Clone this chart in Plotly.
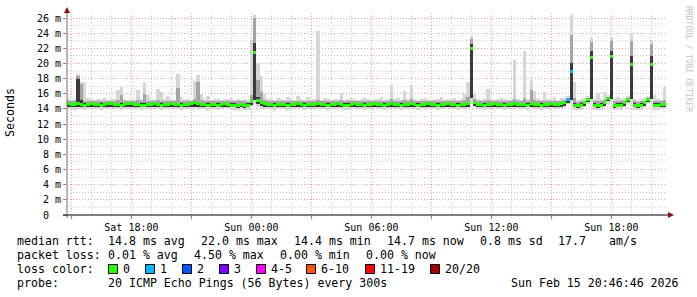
import plotly.graph_objects as go
import pandas as pd

# ---------------- data (ms, 10-minute bins) ----------------
bin_start = "2026-02-14 14:50"
bin_minutes = 10

ping_min = [
    14.0, 14.0, 13.9, 14.0, 14.0, 13.9, 14.0, 14.1, 14.0, 14.0,
    13.9, 14.0, 14.0, 14.1, 14.0, 14.0, 13.9, 14.0, 14.0, 14.1,
    14.0, 14.0, 13.9, 14.0, 14.0, 14.0, 14.1, 14.0, 13.9, 14.0,
    14.0, 14.1, 14.0, 14.0, 13.9, 14.0, 14.0, 14.1, 14.1, 14.0,
    14.0, 14.0, 13.9, 14.0, 14.0, 13.9, 14.0, 14.1, 14.0, 13.9,
    13.9, 13.8, 14.0, 13.8, 13.9, 14.2, 14.6, 14.3, 14.1, 14.0,
    14.0, 14.0, 13.9, 14.0, 14.0, 14.0, 13.9, 14.0, 14.0, 14.1,
    14.0, 13.9, 14.0, 14.0, 14.0, 14.1, 14.0, 14.0, 13.9, 14.0,
    14.0, 14.1, 14.0, 13.9, 13.9, 14.0, 14.1, 14.0, 14.0, 13.9,
    14.0, 14.0, 14.1, 14.0, 14.0, 13.9, 14.0, 14.1, 14.0, 14.0,
    13.9, 14.0, 14.0, 14.1, 14.0, 13.9, 14.0, 14.0, 14.1, 14.0,
    14.0, 13.9, 14.0, 14.0, 14.1, 14.0, 14.0, 13.9, 14.0, 14.0,
    14.1, 14.8, 14.2, 14.0, 14.0, 13.9, 14.0, 14.0, 14.1, 14.0,
    14.0, 13.9, 14.0, 14.0, 14.1, 14.0, 14.0, 14.0, 13.9, 14.1,
    14.0, 14.0, 13.9, 14.0, 14.0, 14.1, 14.0, 14.0, 14.1, 14.2,
    14.6, 14.8, 13.9, 13.8, 13.9, 14.2, 14.6, 14.9, 13.9, 13.8,
    13.9, 14.2, 14.7, 14.9, 13.8, 13.9, 13.9, 14.2, 14.6, 14.8,
    13.9, 13.8, 13.9, 14.2, 14.6, 14.8, 13.9, 13.9, 14.0, 14.0,
]

ping_p25 = [
    14.3, 14.2, 14.2, 14.3, 14.2, 14.2, 14.2, 14.3, 14.2, 14.2,
    14.2, 14.2, 14.3, 14.3, 14.2, 14.2, 14.2, 14.2, 14.3, 14.3,
    14.2, 14.2, 14.2, 14.2, 14.2, 14.2, 14.3, 14.2, 14.2, 14.2,
    14.2, 14.3, 14.2, 14.2, 14.2, 14.2, 14.2, 14.3, 14.3, 14.3,
    14.2, 14.2, 14.2, 14.2, 14.2, 14.2, 14.2, 14.3, 14.2, 14.2,
    14.2, 14.1, 14.2, 14.1, 14.2, 14.5, 15.2, 14.6, 14.4, 14.3,
    14.2, 14.2, 14.2, 14.2, 14.2, 14.2, 14.2, 14.2, 14.2, 14.3,
    14.2, 14.2, 14.2, 14.2, 14.2, 14.3, 14.2, 14.2, 14.2, 14.2,
    14.2, 14.3, 14.2, 14.2, 14.2, 14.2, 14.3, 14.2, 14.2, 14.2,
    14.2, 14.2, 14.3, 14.2, 14.2, 14.2, 14.2, 14.3, 14.2, 14.2,
    14.2, 14.2, 14.2, 14.3, 14.2, 14.2, 14.2, 14.2, 14.3, 14.2,
    14.2, 14.2, 14.2, 14.2, 14.3, 14.2, 14.2, 14.2, 14.2, 14.2,
    14.3, 15.4, 14.4, 14.2, 14.2, 14.2, 14.2, 14.2, 14.3, 14.2,
    14.2, 14.2, 14.2, 14.2, 14.3, 14.2, 14.2, 14.2, 14.2, 14.3,
    14.2, 14.2, 14.2, 14.2, 14.2, 14.3, 14.2, 14.2, 14.3, 14.4,
    14.8, 15.2, 14.2, 14.1, 14.2, 14.4, 14.9, 15.3, 14.2, 14.1,
    14.2, 14.4, 15.0, 15.3, 14.1, 14.2, 14.2, 14.4, 14.9, 15.3,
    14.2, 14.1, 14.2, 14.4, 14.9, 15.3, 14.2, 14.2, 14.2, 14.2,
]

median_rtt = [
    14.7, 14.6, 14.6, 14.7, 14.6, 14.5, 14.6, 14.7, 14.6, 14.6,
    14.5, 14.6, 14.7, 14.7, 14.6, 14.6, 14.5, 14.6, 14.7, 14.7,
    14.6, 14.6, 14.5, 14.5, 14.6, 14.6, 14.7, 14.6, 14.5, 14.6,
    14.6, 14.7, 14.6, 14.6, 14.5, 14.6, 14.6, 14.7, 14.8, 14.7,
    14.6, 14.6, 14.5, 14.6, 14.6, 14.5, 14.6, 14.7, 14.6, 14.5,
    14.5, 14.4, 14.6, 14.4, 14.5, 15.0, 21.4, 15.1, 14.8, 14.7,
    14.6, 14.6, 14.5, 14.6, 14.6, 14.6, 14.5, 14.6, 14.6, 14.7,
    14.6, 14.5, 14.6, 14.6, 14.6, 14.7, 14.6, 14.6, 14.5, 14.6,
    14.6, 14.7, 14.6, 14.5, 14.5, 14.6, 14.7, 14.6, 14.6, 14.5,
    14.6, 14.6, 14.7, 14.6, 14.6, 14.5, 14.6, 14.7, 14.6, 14.6,
    14.5, 14.6, 14.6, 14.7, 14.6, 14.5, 14.6, 14.6, 14.7, 14.6,
    14.6, 14.5, 14.6, 14.6, 14.7, 14.6, 14.6, 14.5, 14.6, 14.6,
    14.7, 22.0, 14.8, 14.6, 14.6, 14.5, 14.6, 14.6, 14.7, 14.6,
    14.6, 14.5, 14.6, 14.6, 14.7, 14.6, 14.6, 14.6, 14.5, 14.7,
    14.6, 14.6, 14.5, 14.6, 14.6, 14.7, 14.6, 14.6, 14.7, 14.8,
    15.2, 19.0, 14.5, 14.4, 14.5, 14.8, 15.3, 20.8, 14.5, 14.4,
    14.5, 14.8, 15.4, 20.9, 14.4, 14.5, 14.5, 14.8, 15.3, 19.8,
    14.5, 14.4, 14.5, 14.8, 15.3, 19.9, 14.5, 14.5, 14.6, 14.6,
]

ping_p75 = [
    14.9, 14.8, 14.8, 17.9, 15.2, 14.8, 14.8, 14.9, 14.8, 14.8,
    14.8, 14.8, 14.9, 14.9, 14.8, 14.8, 14.8, 14.8, 14.9, 14.9,
    14.8, 14.8, 14.8, 14.8, 14.8, 14.8, 14.9, 14.8, 14.8, 14.8,
    14.8, 14.9, 14.8, 14.8, 14.8, 14.8, 14.8, 14.9, 15.0, 14.9,
    14.8, 14.8, 14.8, 14.8, 14.8, 14.8, 14.8, 14.9, 14.8, 14.8,
    14.8, 14.7, 14.8, 14.7, 14.8, 15.2, 22.7, 15.6, 15.0, 14.9,
    14.8, 14.8, 14.8, 14.8, 14.8, 14.8, 14.8, 14.8, 14.8, 14.9,
    14.8, 14.8, 14.8, 14.8, 14.8, 14.9, 14.8, 14.8, 14.8, 14.8,
    14.8, 14.9, 14.8, 14.8, 14.8, 14.8, 14.9, 14.8, 14.8, 14.8,
    14.8, 14.8, 14.9, 14.8, 14.8, 14.8, 14.8, 14.9, 14.8, 14.8,
    14.8, 14.8, 14.8, 14.9, 14.8, 14.8, 14.8, 14.8, 14.9, 14.8,
    14.8, 14.8, 14.8, 14.8, 14.9, 14.8, 14.8, 14.8, 14.8, 14.8,
    14.9, 22.6, 15.0, 14.8, 14.8, 14.8, 14.8, 14.8, 14.9, 14.8,
    14.8, 14.8, 14.8, 14.8, 14.9, 14.8, 14.8, 14.8, 14.8, 14.9,
    14.8, 14.8, 14.8, 14.8, 14.8, 14.9, 14.8, 14.8, 14.9, 15.0,
    15.4, 20.0, 14.8, 14.7, 14.8, 15.0, 15.5, 21.6, 14.8, 14.7,
    14.8, 15.0, 15.6, 21.7, 14.7, 14.8, 14.8, 15.0, 15.5, 21.0,
    14.8, 14.7, 14.8, 15.0, 15.5, 21.0, 14.8, 14.8, 14.8, 14.8,
]

ping_p90 = [
    15.0, 15.0, 15.1, 18.4, 17.3, 15.1, 15.0, 15.0, 15.0, 15.1,
    15.0, 15.1, 15.0, 15.0, 15.1, 15.2, 15.8, 15.0, 15.0, 15.1,
    15.0, 15.2, 15.0, 16.0, 15.1, 15.0, 15.0, 15.2, 15.1, 15.0,
    15.1, 15.0, 15.0, 16.8, 15.1, 15.0, 15.1, 15.0, 15.3, 17.5,
    15.2, 15.0, 15.1, 15.0, 15.0, 15.1, 15.0, 15.0, 15.1, 15.0,
    15.0, 15.0, 15.0, 15.0, 14.9, 15.8, 26.0, 17.8, 16.2, 15.2,
    15.0, 15.1, 15.0, 15.1, 15.0, 15.0, 15.1, 15.0, 15.0, 15.1,
    15.0, 15.0, 15.1, 15.0, 15.0, 15.2, 15.0, 15.1, 15.0, 15.0,
    15.0, 15.1, 15.2, 15.0, 15.0, 15.1, 15.0, 15.0, 15.1, 15.0,
    15.0, 15.0, 15.1, 15.0, 15.1, 15.0, 15.0, 15.3, 15.0, 15.1,
    15.0, 15.2, 15.0, 15.3, 15.0, 15.0, 15.1, 15.0, 15.0, 15.0,
    15.1, 15.0, 15.1, 15.0, 15.0, 15.1, 15.0, 15.0, 15.0, 15.2,
    15.6, 23.2, 15.3, 15.0, 15.0, 15.0, 15.2, 15.0, 15.0, 15.1,
    15.1, 15.0, 15.0, 15.0, 15.3, 15.0, 15.0, 15.4, 15.0, 16.5,
    15.2, 15.0, 15.0, 15.1, 15.0, 15.1, 15.1, 15.0, 15.1, 15.2,
    15.5, 23.8, 15.4, 14.9, 15.0, 15.1, 15.5, 22.8, 15.0, 15.0,
    15.0, 15.2, 15.6, 22.9, 15.0, 15.1, 15.0, 15.1, 15.5, 23.0,
    15.0, 14.9, 15.0, 15.1, 15.5, 22.6, 15.1, 15.0, 15.0, 15.2,
]

ping_max = [
    15.3, 15.2, 15.3, 18.6, 17.6, 17.5, 15.4, 15.3, 15.2, 15.3,
    15.3, 15.5, 15.2, 15.3, 15.3, 16.5, 16.9, 15.3, 15.2, 15.3,
    15.2, 16.5, 15.3, 17.5, 15.8, 15.3, 15.2, 16.6, 16.3, 15.3,
    15.7, 15.3, 15.2, 18.6, 15.6, 15.3, 15.3, 15.2, 17.7, 18.5,
    16.0, 15.3, 15.7, 15.2, 15.3, 15.3, 15.2, 15.3, 15.3, 15.5,
    15.2, 15.3, 15.2, 15.3, 15.2, 23.1, 26.4, 20.0, 18.3, 16.0,
    15.3, 15.3, 15.2, 15.5, 15.3, 15.2, 15.6, 15.3, 15.2, 15.7,
    15.3, 15.2, 15.6, 15.3, 15.3, 24.3, 15.2, 15.5, 15.3, 15.2,
    15.3, 15.3, 16.1, 15.2, 15.3, 15.5, 15.3, 15.2, 15.3, 15.4,
    15.3, 15.2, 15.3, 15.3, 15.6, 15.2, 15.3, 17.1, 15.3, 15.4,
    15.2, 16.4, 15.3, 17.1, 15.3, 15.2, 15.3, 15.5, 15.3, 15.2,
    15.3, 15.3, 15.6, 15.2, 15.3, 15.3, 15.5, 15.2, 15.3, 16.0,
    17.5, 23.6, 16.0, 15.3, 15.2, 15.3, 16.6, 15.3, 15.2, 15.3,
    15.5, 15.3, 15.2, 15.3, 20.5, 15.3, 15.2, 21.6, 15.3, 17.8,
    16.4, 15.3, 15.2, 16.2, 15.3, 15.3, 15.6, 15.2, 15.5, 15.4,
    15.7, 26.4, 17.6, 15.2, 15.3, 15.4, 15.7, 23.3, 15.3, 16.1,
    15.3, 16.2, 15.8, 23.3, 15.3, 15.6, 15.3, 15.4, 15.7, 24.0,
    15.3, 15.2, 15.3, 15.4, 15.7, 23.1, 15.8, 15.3, 15.2, 16.9,
]

lost_pings = [
    0, 0, 0, 0, 0, 0, 0, 0, 0, 0,
    0, 0, 0, 0, 0, 0, 0, 0, 0, 0,
    0, 0, 0, 0, 0, 0, 0, 0, 0, 0,
    0, 0, 0, 0, 0, 0, 0, 0, 0, 0,
    0, 0, 0, 0, 0, 0, 0, 0, 0, 0,
    0, 0, 0, 0, 0, 0, 0, 0, 0, 0,
    0, 0, 0, 0, 0, 0, 0, 0, 0, 0,
    0, 0, 0, 0, 0, 0, 0, 0, 0, 0,
    0, 0, 0, 0, 0, 0, 0, 0, 0, 0,
    0, 0, 0, 0, 0, 0, 0, 0, 0, 0,
    0, 0, 0, 0, 0, 0, 0, 0, 0, 0,
    0, 0, 0, 0, 0, 0, 0, 0, 0, 0,
    0, 0, 0, 0, 0, 0, 0, 0, 0, 0,
    0, 0, 0, 0, 0, 0, 0, 0, 0, 0,
    0, 0, 0, 0, 0, 0, 0, 0, 0, 0,
    1, 1, 0, 0, 0, 0, 0, 0, 0, 0,
    0, 0, 0, 0, 0, 0, 0, 0, 0, 0,
    0, 0, 0, 0, 0, 0, 0, 0, 0, 0,
]

x_range = ["2026-02-14 14:46:46", "2026-02-15 20:46:46"]
x_tick_times = ["2026-02-14 15:00", "2026-02-14 18:00", "2026-02-14 21:00",
                "2026-02-15 00:00", "2026-02-15 03:00", "2026-02-15 06:00",
                "2026-02-15 09:00", "2026-02-15 12:00", "2026-02-15 15:00",
                "2026-02-15 18:00"]
x_tick_labels = ["", "Sat 18:00", "", "Sun 00:00", "", "Sun 06:00", "",
                 "Sun 12:00", "", "Sun 18:00"]
y_tick_vals = [0, 2, 4, 6, 8, 10, 12, 14, 16, 18, 20, 22, 24, 26]
y_tick_labels = ["0  ", "2 m", "4 m", "6 m", "8 m", "10 m", "12 m", "14 m",
                 "16 m", "18 m", "20 m", "22 m", "24 m", "26 m"]

loss_legend = ["0", "1", "2", "3", "4-5", "6-10", "11-19", "20/20"]
loss_colors = ["#26ff00", "#00b8ff", "#0059ff", "#7e00ff", "#ff00ff",
               "#ff5500", "#ff0000", "#a10000"]
loss_upper = [0, 1, 2, 3, 5, 10, 19, 20]

rtt_line = ["median rtt:", "14.8 ms avg", "22.0 ms max", "14.4 ms min",
            "14.7 ms now", "0.8 ms sd", "17.7", "am/s"]
loss_line = ["packet loss:", "0.01 % avg", "4.50 % max", "0.00 % min", "0.00 % now"]
color_line = ["loss color:"]
probe_line = ["probe:", "20 ICMP Echo Pings (56 Bytes) every 300s"]
timestamp = "Sun Feb 15 20:46:46 2026"

# ---------------- layout geometry ----------------
W, H = 697, 297
ML, MR, MT, MB = 67, 30, 13, 82
PW, PH = W - ML - MR, H - MT - MB
MONO = "DejaVu Sans Mono"


def px(x):
    return (x - ML) / PW


def py(y):
    return (H - MB - y) / PH


def nb(s):
    return s.replace(" ", "\u00a0")


def loss_color(n):
    for up, c in zip(loss_upper, loss_colors):
        if n <= up:
            return c
    return loss_colors[-1]


times = pd.date_range(bin_start, periods=len(median_rtt), freq=f"{bin_minutes}min")
BIN_MS = bin_minutes * 60 * 1000 * 1.02

fig = go.Figure()


def band(lo, hi, color):
    fig.add_trace(go.Bar(
        x=times, base=lo, y=[h - l for l, h in zip(lo, hi)], width=BIN_MS,
        marker=dict(color=color, line=dict(width=0)), hoverinfo="skip"))


band(ping_min, ping_max, "#d6d6d6")
band(ping_p25, ping_p90, "#a4a4a4")
band(ping_p25, ping_p75, "#3a3a3a")

MED_HALF = 0.2
fig.add_trace(go.Bar(
    x=times, base=[m - MED_HALF for m in median_rtt],
    y=[2 * MED_HALF] * len(median_rtt), width=BIN_MS,
    marker=dict(color=[loss_color(n) for n in lost_pings], line=dict(width=0)),
    hoverinfo="skip"))

major_grid = "#eaa0a0"
minor_grid = "#cdcdcd"
dash = "1px,2px"

fig.update_layout(
    width=W, height=H, margin=dict(l=ML, r=MR, t=MT, b=MB, pad=0),
    paper_bgcolor="white", plot_bgcolor="white", showlegend=False,
    barmode="overlay", bargap=0,
    font=dict(family=MONO, size=10, color="#000000"),
    xaxis=dict(
        type="date", range=x_range, tickmode="array",
        tickvals=x_tick_times, ticktext=x_tick_labels,
        showgrid=True, gridcolor=major_grid, griddash=dash, gridwidth=1,
        ticks="outside", ticklen=3, tickcolor="#e06060", tickwidth=1,
        tickfont=dict(family=MONO, size=10, color="#000000"),
        showline=False, zeroline=False,
        minor=dict(dtick=3600000, tick0="2026-02-14 00:00", showgrid=True,
                   gridcolor=minor_grid, griddash=dash, gridwidth=1),
    ),
    yaxis=dict(
        range=[0, 26.66], tickmode="array", tickvals=y_tick_vals,
        ticktext=[nb(t) for t in y_tick_labels],
        showgrid=True, gridcolor=major_grid, griddash=dash, gridwidth=1,
        ticks="outside", ticklen=3, tickcolor="#e06060", tickwidth=1,
        tickfont=dict(family=MONO, size=10, color="#000000"),
        showline=False, zeroline=False,
        minor=dict(dtick=1, tick0=0, showgrid=True,
                   gridcolor=minor_grid, griddash=dash, gridwidth=1),
    ),
)

shapes = []
# axes with arrows
shapes.append(dict(type="line", xref="paper", yref="paper",
                   x0=px(67), x1=px(67), y0=py(218), y1=py(10),
                   line=dict(color="#707070", width=1)))
shapes.append(dict(type="line", xref="paper", yref="paper",
                   x0=px(63), x1=px(670), y0=py(215), y1=py(215),
                   line=dict(color="#000000", width=1)))
shapes.append(dict(type="path", xref="paper", yref="paper",
                   path=f"M {px(64)} {py(13)} L {px(70)} {py(13)} L {px(67)} {py(7)} Z",
                   fillcolor="#8b1010", line=dict(width=0)))
shapes.append(dict(type="path", xref="paper", yref="paper",
                   path=f"M {px(668)} {py(212)} L {px(668)} {py(218)} L {px(674)} {py(215)} Z",
                   fillcolor="#8b1010", line=dict(width=0)))

annotations = []


def text_at(x, y, s, anchor="left"):
    annotations.append(dict(xref="paper", yref="paper", x=px(x), y=py(y),
                            xanchor=anchor, yanchor="middle", showarrow=False,
                            text=nb(s), font=dict(family=MONO, size=11.6, color="#000")))


rtt_x = [15, 106, 199, 292, 385, 478, 556, 607]
loss_x = [15, 106, 192, 278, 364]
for s, x in zip(rtt_line, rtt_x):
    text_at(x, 241, s)
for s, x in zip(loss_line, loss_x):
    text_at(x, 255, s)
text_at(15, 269, color_line[0])
text_at(15, 283, probe_line[0])
text_at(106, 283, probe_line[1])
text_at(681, 283, timestamp, anchor="right")

square_left = [108, 145, 182, 219, 256, 306, 365, 430]
for sx, lab, col in zip(square_left, loss_legend, loss_colors):
    shapes.append(dict(type="rect", xref="paper", yref="paper",
                       x0=px(sx + 0.5), x1=px(sx + 9.5), y0=py(264.5), y1=py(273.5),
                       fillcolor=col, line=dict(color="#000000", width=1)))
    text_at(sx + 13, 269, lab)

annotations.append(dict(xref="paper", yref="paper", x=px(10), y=py(113),
                        xanchor="center", yanchor="middle", showarrow=False,
                        textangle=-90, text="Seconds",
                        font=dict(family=MONO, size=11.6, color="#000")))
annotations.append(dict(xref="paper", yref="paper", x=px(688), y=py(59),
                        xanchor="center", yanchor="middle", showarrow=False,
                        textangle=90, text=nb("RRDTOOL / TOBI OETIKER"),
                        font=dict(family=MONO, size=8, color="#c4c4c4")))

fig.update_layout(shapes=shapes, annotations=annotations)
fig.write_html("out.html")
